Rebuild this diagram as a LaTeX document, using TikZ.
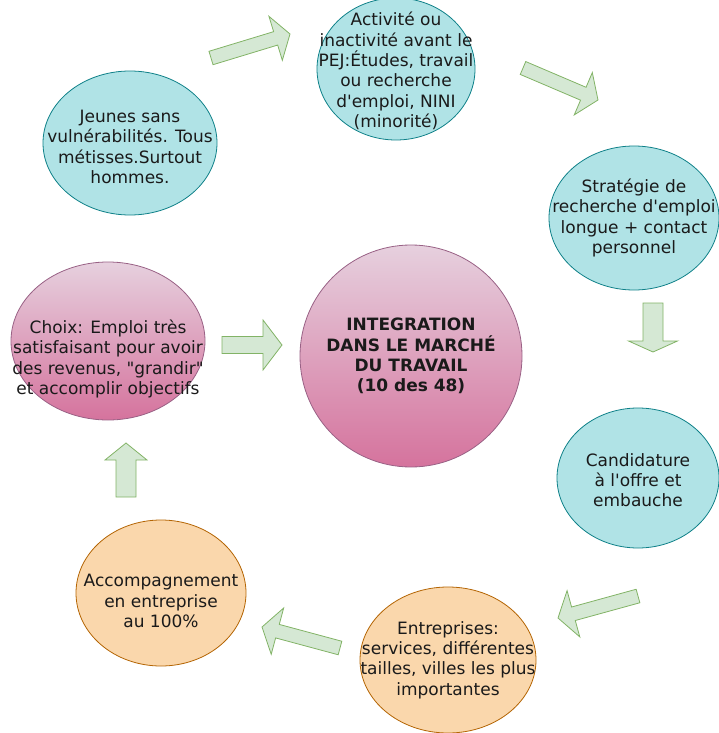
\documentclass[tikz,border=0pt]{standalone}
\usepackage{fontspec}
\newfontfamily\vf{DejaVu Sans}
\usetikzlibrary{shapes.geometric,calc}
\definecolor{cyanF}{HTML}{B0E3E6}
\definecolor{cyanD}{HTML}{0E8088}
\definecolor{orF}{HTML}{FAD7AC}
\definecolor{orD}{HTML}{B46504}
\definecolor{pkT}{HTML}{E6D0DE}
\definecolor{pkB}{HTML}{D5739D}
\definecolor{pkD}{HTML}{996185}
\definecolor{grF}{HTML}{D5E8D4}
\definecolor{grD}{HTML}{82B366}
\definecolor{txtc}{HTML}{1A1A1A}
\tikzset{
  shp/.style={ellipse, inner sep=0pt, line width=0.8pt},
  cyanell/.style={shp, draw=cyanD, fill=cyanF},
  orell/.style={shp, draw=orD, fill=orF},
  pkell/.style={shp, draw=pkD, top color=pkT, bottom color=pkB},
  lbl/.style={align=center, font=\vf\fontsize{17}{20.3}\selectfont, text=txtc, inner sep=0pt},
  blbl/.style={align=center, font=\vf\bfseries\fontsize{17}{20.3}\selectfont, text=txtc, inner sep=0pt},
  barrow/.style={draw=grD, fill=grF, line width=0.8pt, line join=miter},
}
% tail, tip, half shaft, half head, head length
\newcommand\blockarr[5]{%
  \coordinate (hb) at ($(#2)!#5!(#1)$);
  \draw[barrow] ($(#1)!#3!90:(#2)$) -- ($(hb)!#3!90:(#2)$) -- ($(hb)!#4!90:(#2)$)
    -- (#2) -- ($(hb)!#4!-90:(#2)$) -- ($(hb)!#3!-90:(#2)$) -- ($(#1)!#3!-90:(#2)$) -- cycle;}
\begin{document}
\begin{tikzpicture}[x=1pt,y=-1pt]
\useasboundingbox (0,0) rectangle (718,733);
% ellipses
\node[cyanell, minimum width=174pt, minimum height=144pt] (jeunes) at (130,143) {};
\node[lbl] (tjeunes) at ($(jeunes)+(0,4)$) {Jeunes sans\\vulnérabilités. Tous\\métisses.Surtout\\hommes.};
\node[cyanell, minimum width=158pt, minimum height=142pt] (activ) at (396,69) {};
\node[lbl] (tactiv) at ($(activ)+(0,2)$) {Activité ou\\inactivité avant le\\PEJ:Études, travail\\ou recherche\\d'emploi, NINI\\(minorité)};
\node[cyanell, minimum width=170pt, minimum height=144pt] (strat) at (634,218) {};
\node[lbl] (tstrat) at (strat) {Stratégie de\\recherche d'emploi\\longue + contact\\personnel};
\node[cyanell, minimum width=162pt, minimum height=140pt] (cand) at (638,478) {};
\node[lbl] (tcand) at ($(cand)+(0,2)$) {Candidature\\à l'offre et\\embauche};
\node[orell, minimum width=176pt, minimum height=146pt] (entr) at (448,660) {};
\node[lbl] (tentr) at (entr) {Entreprises:\\services, différentes\\tailles, villes les plus\\importantes};
\node[orell, minimum width=170pt, minimum height=146pt] (accomp) at (161,593) {};
\node[lbl] (taccomp) at ($(accomp)+(0,8)$) {Accompagnement\\en entreprise\\au 100\%};
\node[pkell, minimum width=194pt, minimum height=158pt] (choix) at (108,341) {};
\node[lbl] (tchoix) at ($(choix)+(0,18)$) {Choix: Emploi très\\satisfaisant pour avoir\\des revenus, "grandir"\\et accomplir objectifs};
\node[pkell, minimum width=222pt, minimum height=222pt] (integ) at (411,356) {};
\node[blbl] (tinteg) at (integ) {INTEGRATION\\DANS LE MARCHÉ\\DU TRAVAIL\\(10 des 48)};
% block arrows
\coordinate (a1s) at (211,58);  \coordinate (a1e) at (290,34);
\coordinate (a2s) at (523,68);  \coordinate (a2e) at (598,100);
\coordinate (a3s) at (653,303); \coordinate (a3e) at (653,352);
\coordinate (a4s) at (638,596); \coordinate (a4e) at (558,618);
\coordinate (a5s) at (340,648); \coordinate (a5e) at (262,627);
\coordinate (a6s) at (126,497); \coordinate (a6e) at (126,443);
\coordinate (a7s) at (222,345); \coordinate (a7e) at (282,345);
\blockarr{a1s}{a1e}{7pt}{23pt}{15pt}
\blockarr{a2s}{a2e}{7pt}{23pt}{16pt}
\blockarr{a3s}{a3e}{10pt}{24.5pt}{11pt}
\blockarr{a4s}{a4e}{7pt}{24pt}{16pt}
\blockarr{a5s}{a5e}{7pt}{24pt}{16pt}
\blockarr{a6s}{a6e}{10pt}{21pt}{17pt}
\blockarr{a7s}{a7e}{8.5pt}{25pt}{19pt}
\end{tikzpicture}
\end{document}
